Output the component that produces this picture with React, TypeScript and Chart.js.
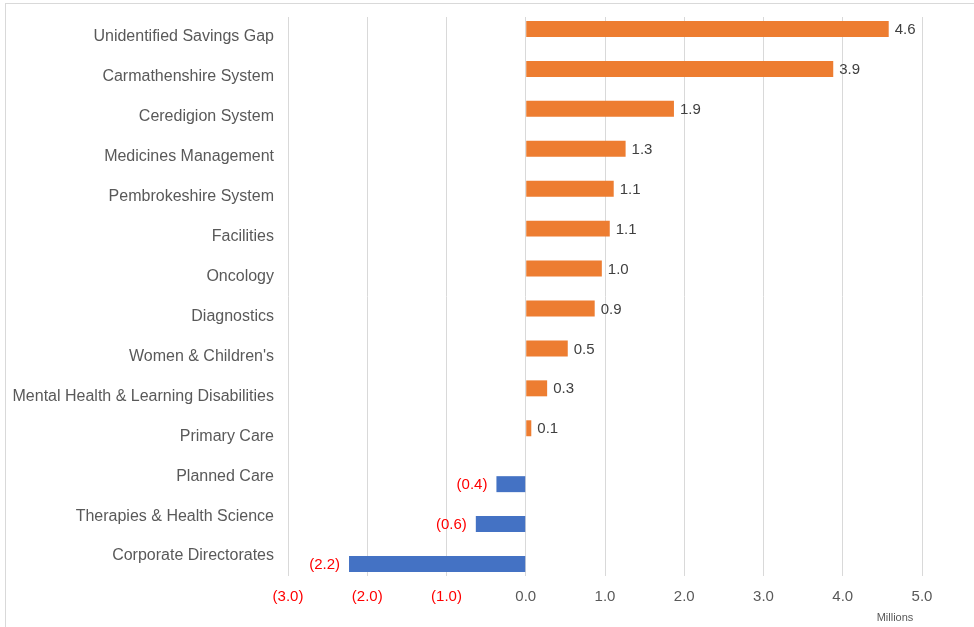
import React, { useEffect, useRef } from "react";
import { Chart, registerables } from "chart.js";

Chart.register(...registerables);

const categories = [
  "Unidentified Savings Gap",
  "Carmathenshire System",
  "Ceredigion System",
  "Medicines Management",
  "Pembrokeshire System",
  "Facilities",
  "Oncology",
  "Diagnostics",
  "Women & Children's",
  "Mental Health & Learning Disabilities",
  "Primary Care",
  "Planned Care",
  "Therapies & Health Science",
  "Corporate Directorates",
];

const savingsValues = [4.58, 3.88, 1.87, 1.26, 1.11, 1.06, 0.96, 0.87, 0.53, 0.27, 0.07, -0.37, -0.63, -2.23];

const positiveValues = savingsValues.map((v) => (v >= 0 ? v : null));
const negativeValues = savingsValues.map((v) => (v < 0 ? v : null));

const xTickMin = -3;
const xTickMax = 5;
const unitLabel = "Millions";

const FONT = "'Liberation Sans', Arial, sans-serif";
const GRAY = "#595959";
const RED = "#FF0000";

const fmt = (v: number) => (v < 0 ? `(${Math.abs(v).toFixed(1)})` : v.toFixed(1));

const labelPlugin = {
  id: "valueLabels",
  afterDatasetsDraw(chart: any) {
    const ctx = chart.ctx;
    ctx.save();
    ctx.font = `15px ${FONT}`;
    ctx.textBaseline = "middle";
    chart.data.datasets.forEach((ds: any, di: number) => {
      const meta = chart.getDatasetMeta(di);
      meta.data.forEach((el: any, i: number) => {
        const v = ds.data[i];
        if (v === null || v === undefined) return;
        if (v >= 0) {
          ctx.fillStyle = "#404040";
          ctx.textAlign = "left";
          ctx.fillText(fmt(v), el.x + 6, el.y + 1);
        } else {
          ctx.fillStyle = RED;
          ctx.textAlign = "right";
          ctx.fillText(fmt(v), el.x - 9, el.y + 1);
        }
      });
    });
    const area = chart.chartArea;
    ctx.font = `11px ${FONT}`;
    ctx.fillStyle = GRAY;
    ctx.textAlign = "center";
    ctx.fillText(unitLabel, area.right - 27, area.bottom + 42);
    ctx.restore();
  },
};

export default function App() {
  const canvasRef = useRef<HTMLCanvasElement | null>(null);

  useEffect(() => {
    document.body.style.margin = "0";
    const canvas = canvasRef.current;
    if (!canvas) return;
    const chart = new Chart(canvas, {
      type: "bar",
      data: {
        labels: categories,
        datasets: [
          {
            label: "Positive",
            data: positiveValues,
            backgroundColor: "#ED7D31",
            categoryPercentage: 0.8,
            barPercentage: 1.0,
          },
          {
            label: "Negative",
            data: negativeValues,
            backgroundColor: "#4472C4",
            categoryPercentage: 0.8,
            barPercentage: 1.0,
          },
        ],
      },
      options: {
        indexAxis: "y",
        animation: false,
        responsive: true,
        maintainAspectRatio: false,
        layout: { padding: { left: 0, right: 52, top: 17, bottom: 0 } },
        plugins: {
          legend: { display: false },
          tooltip: { enabled: false },
        },
        scales: {
          x: {
            type: "linear",
            min: xTickMin,
            max: xTickMax,
            grid: { color: "#d9d9d9", lineWidth: 1, drawTicks: false },
            border: { display: false },
            ticks: {
              stepSize: 1,
              padding: 12,
              font: { family: FONT, size: 15 },
              color: (c: any) => (c.tick && c.tick.value < 0 ? RED : GRAY),
              callback: (value: any) => fmt(Number(value)),
            },
            afterFit: (scale: any) => {
              scale.height = 51;
              scale.paddingLeft = 0;
              scale.paddingRight = 0;
            },
          },
          y: {
            type: "category",
            grid: { display: false, drawTicks: false },
            border: { display: false },
            ticks: {
              padding: 14,
              font: { family: FONT, size: 16 },
              color: GRAY,
            },
            afterFit: (scale: any) => {
              scale.width = 288;
              scale.paddingTop = 0;
              scale.paddingBottom = 0;
            },
          },
        },
      },
      plugins: [labelPlugin],
    } as any);
    return () => chart.destroy();
  }, []);

  return (
    <div style={{ position: "relative", width: 974, height: 627, overflow: "hidden" }}>
      <div
        style={{
          position: "absolute",
          left: 5,
          top: 3,
          width: 980,
          height: 640,
          borderLeft: "1px solid #d9d9d9",
          borderTop: "1px solid #d9d9d9",
          pointerEvents: "none",
        }}
      />
      <canvas ref={canvasRef} />
    </div>
  );
}
